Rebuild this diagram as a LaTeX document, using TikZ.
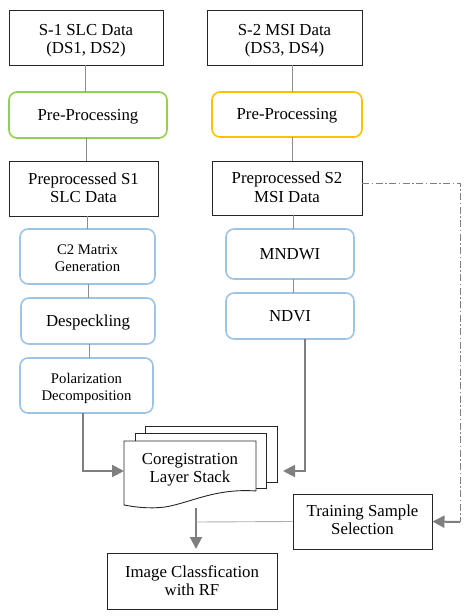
\documentclass[tikz,border=0pt]{standalone}
\usepackage{fontspec}
\setmainfont{Liberation Serif}
\usetikzlibrary{arrows.meta}
\definecolor{cgreen}{HTML}{92D050}
\definecolor{cyellow}{HTML}{FFC000}
\definecolor{cblue}{HTML}{9DC3E6}
\definecolor{cline}{HTML}{8C8C8C}
\definecolor{carrow}{HTML}{7F7F7F}
\begin{document}
\begin{tikzpicture}[x=1bp,y=-1bp,
  base/.style={inner sep=0pt,align=center,font=\fontsize{16.8bp}{18bp}\selectfont},
  one/.style={text height=11bp,text depth=0bp},
  two/.style={text height=28bp,text depth=0bp},
  sqbox/.style={base,draw=black!85,line width=0.9bp},
  rbox/.style={base,draw=#1,line width=1.6bp,rounded corners=8bp},
  small/.style={font=\fontsize{14.7bp}{17bp}\selectfont,text height=29bp,text depth=0bp},
  thin/.style={draw=cline,line width=0.9bp},
  thick/.style={draw=carrow,line width=2bp,-{Triangle[length=12bp,width=12bp]}},
  doc/.style={draw=black!85,line width=0.9bp,fill=white}]
\useasboundingbox (0,0) rectangle (471,616);
% top row
\node[sqbox,text height=32bp,text depth=0bp,minimum width=154bp,minimum height=55bp] (s1) at (86,37.5) {S-1 SLC Data\\(DS1, DS2)};
\node[sqbox,text height=32bp,text depth=0bp,minimum width=155bp,minimum height=55bp] (s2) at (284.5,37.5) {S-2 MSI Data\\(DS3, DS4)};
\node[rbox=cgreen,one,minimum width=158bp,minimum height=46bp] (pre1) at (88,115) {Pre-Processing};
\node[rbox=cyellow,one,minimum width=150bp,minimum height=45bp] (pre2) at (287,114.5) {Pre-Processing};
\node[sqbox,two,minimum width=149bp,minimum height=55bp] (pp1) at (83.5,188.5) {Preprocessed S1\\SLC Data};
\node[sqbox,two,minimum width=150bp,minimum height=54bp] (pp2) at (287,188) {Preprocessed S2\\MSI Data};
% left column
\node[rbox=cblue,small,minimum width=135bp,minimum height=55bp] (c2) at (87.5,256.5) {C2 Matrix\\Generation};
\node[rbox=cblue,one,minimum width=134bp,minimum height=46bp] (desp) at (88,321) {Despeckling};
\node[rbox=cblue,small,minimum width=133bp,minimum height=55bp] (pol) at (86.5,385.5) {Polarization\\Decomposition};
% right column
\node[rbox=cblue,one,minimum width=128bp,minimum height=50bp] (mndwi) at (290,254) {MNDWI};
\node[rbox=cblue,one,minimum width=128bp,minimum height=46bp] (ndvi) at (290,316) {NDVI};
% multi-document
\draw[doc] (145,426) rectangle (277,482);
\draw[doc] (135,433) rectangle (266,488);
\draw[doc] (124,441) -- (256,441) -- (256,491)
  .. controls (215,488) and (190,503) .. (165,507)
  .. controls (148,509) and (135,507) .. (124,505) -- cycle;
\node[base,text height=26bp,text depth=0bp,minimum width=132bp,minimum height=40bp] (cor) at (190,469) {Coregistration\\Layer Stack};
\coordinate (corS) at (196,508);
\coordinate (corW) at (124,471);
\coordinate (corE) at (283,471);
% bottom
\node[sqbox,text height=25bp,text depth=0bp,minimum width=139bp,minimum height=55bp] (train) at (362.5,521.5) {Training Sample\\Selection};
\node[sqbox,two,minimum width=170bp,minimum height=56bp] (img) at (192,581) {Image Classfication\\with RF};
% thin connectors
\draw[thin] (85,65) -- (85,92);
\draw[thin] (86,138) -- (86,161);
\draw[thin] (87,216) -- (87,229);
\draw[thin] (88,284) -- (88,298);
\draw[thin] (89,344) -- (89,358);
\draw[thin] (292,65) -- (292,92);
\draw[thin] (292,137) -- (292,161);
\draw[thin] (293,215) -- (293,229);
\draw[thin] (293,279) -- (293,293);
% thick arrows
\draw[thick] (83,413) -- (83,471) -- (corW);
\draw[thick] (305,339) -- (305,471) -- (corE);
\draw[thick] (corS) -- (196,549);
\coordinate (jn) at (196,522);
\draw[thin,draw=cline!70] (train.west) -- (jn);
\coordinate (dd1) at (460,183);
\coordinate (dd2) at (460,522);
\draw[draw=carrow,line width=0.9bp,dash pattern=on 7bp off 2.5bp on 1.5bp off 2.5bp] (pp2.east |- dd1) -- (dd1) -- (dd2);
\draw[thick] (dd2) -- (train.east);
\end{tikzpicture}
\end{document}
